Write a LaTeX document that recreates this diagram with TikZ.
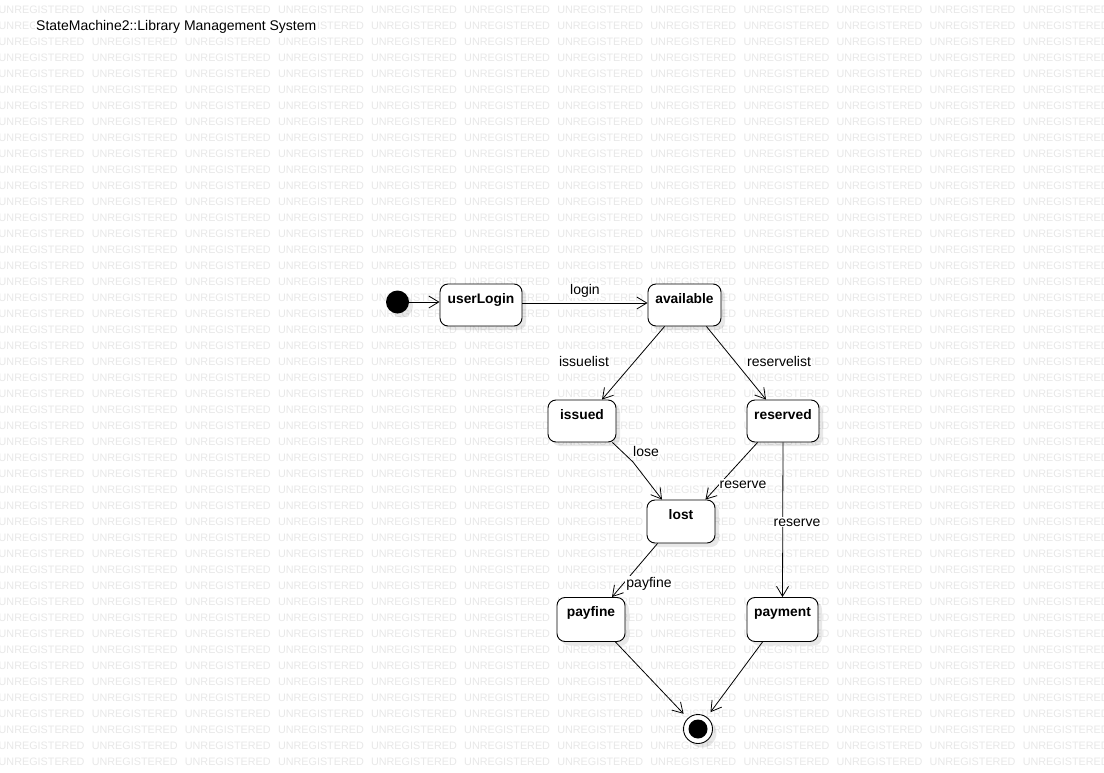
\documentclass[tikz,border=0pt]{standalone}
\usepackage{fontspec}
\setmainfont{Liberation Sans}
\usetikzlibrary{arrows.meta,calc,shadows}
\begin{document}
\begin{tikzpicture}[x=1pt,y=-1pt,
  wmark/.style={anchor=base west, inner sep=0, text=black!9,
    font=\fontsize{10.8}{11}\selectfont},
  shade box/.style={general shadow={shadow xshift=4pt, shadow yshift=-4pt,
    fill=black, opacity=0.09}},
  state/.style={draw, line width=0.9pt, rounded corners=8pt, fill=white,
    inner sep=0, text height=19pt, text depth=#1, shade box,
    font=\fontsize{13.8}{14}\selectfont\bfseries},
  edge/.style={draw, line width=0.8pt,
    -{Straight Barb[length=10pt,width=12pt,line width=0.8pt]}},
  lbl/.style={anchor=base, fill=white, inner sep=1pt,
    font=\fontsize{14}{15}\selectfont}
]
% page and background
\useasboundingbox (0,0) rectangle (1104,773);
\fill[white] (0,0) rectangle (1104,773);

% tiled background text
\foreach \r in {0,...,47}
  \foreach \c in {0,...,11}
    \node[wmark] at (-1.5+93.1*\c, 13.5+16*\r) {UNREGISTERED};

% title
\node[anchor=base west, inner sep=1pt, fill=white, font=\fontsize{14}{15}\selectfont]
  (title) at (35,30.5) {StateMachine2::Library Management System};

% pseudo states
\node[circle, fill=black, minimum size=23pt, inner sep=0, shade box]
  (init) at (397.5,302) {};
\node[circle, draw, line width=0.9pt, fill=white, minimum size=29pt, inner sep=0,
  shade box,
  path picture={\fill[black] (path picture bounding box.center) circle (9.5pt);}]
  (final) at (698,729) {};

% states
\node[state=23pt, minimum width=82pt] (userLogin) at (481,305) {userLogin};
\node[state=23pt, minimum width=73pt] (available) at (684.5,305) {available};
\node[state=23pt, minimum width=68pt] (issued)    at (582,421)   {issued};
\node[state=23pt, minimum width=72pt] (reserved)  at (783,421)   {reserved};
\node[state=24pt, minimum width=68pt] (lost)      at (681,521.5) {lost};
\node[state=25pt, minimum width=68pt] (payfine)   at (591,619.5) {payfine};
\node[state=25pt, minimum width=71pt] (payment)   at (782.5,619.5) {payment};

% transitions
\draw[edge] (init) -- (init -| userLogin.west);
\draw[edge] ([yshift=2pt]userLogin.east) -- ([yshift=2pt]available.west);
\draw[edge] ($(available.south west)+(17,0)$) -- ($(issued.north)+(20,0)$);
\draw[edge] ($(available.south east)+(-15,0)$) -- ($(reserved.north)+(-17,0)$);
\coordinate (loseBend) at (633,462);
\draw[edge] ($(issued.south east)+(-4,0)$) -- (loseBend) -- ($(lost.north)+(-19,0)$);
\draw[edge] ($(reserved.south west)+(11,0)$) -- ($(lost.north east)+(-10,0)$);
\draw[edge] (reserved.south) -- (payment.north);
\draw[edge] ($(lost.south west)+(11,0)$) -- ($(payfine.north)+(21,0)$);
\draw[edge, shorten >=6pt] ($(payfine.south east)+(-10,0)$) -- (final);
\draw[edge, shorten >=6pt] ($(payment.south west)+(16,0)$) -- (final);

% transition labels
\node[lbl] (tLogin)    at (585,294) {login};
\node[lbl] (tIssue)    at (584,366) {issuelist};
\node[lbl] (tReserve)  at (779,366) {reservelist};
\node[lbl] (tLose)     at (646,456) {lose};
\node[lbl] (tResLost)  at (743,488) {reserve};
\node[lbl] (tResPay)   at (797,526) {reserve};
\node[lbl] (tPayfine)  at (649,587) {payfine};
\end{tikzpicture}
\end{document}
